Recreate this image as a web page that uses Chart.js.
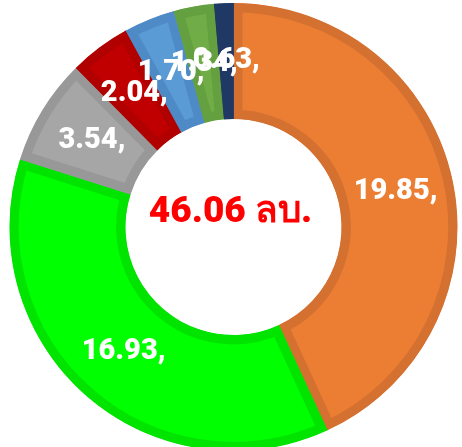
<!DOCTYPE html>
<html>
<head>
<meta charset="utf-8">
<script src="https://cdn.jsdelivr.net/npm/chart.js@4"></script>
<style>
html,body{margin:0;padding:0;background:#fff;overflow:hidden;}
#wrap{width:462px;height:460px;}
</style>
</head>
<body>
<div id="wrap"><canvas id="c" width="462" height="460"></canvas></div>
<script>
const categories = ["A", "B", "C", "D", "E", "F", "G"];
const values = [19.85, 16.93, 3.54, 2.04, 1.70, 1.34, 0.63];
const fillColors = ["#EC7E34", "#00FF00", "#A6A6A6", "#C00000", "#5B9BD5", "#70AD47", "#213A66"];
const edgeColors = ["#D47131", "#00E400", "#989898", "#B00000", "#4E8BC6", "#65A040", "#1F3864"];
const centerText = "46.06 ลบ.";

const labelPlugin = {
  id: 'sliceLabels',
  afterDatasetsDraw(chart) {
    const ctx = chart.ctx;
    const meta = chart.getDatasetMeta(0);
    ctx.save();
    ctx.fillStyle = '#ffffff';
    ctx.font = '900 29px Roboto, "Noto Sans", sans-serif';
    ctx.textAlign = 'center';
    ctx.textBaseline = 'middle';
    meta.data.forEach((arc, i) => {
      const p = arc.tooltipPosition();
      ctx.fillText(values[i].toFixed(2) + ',', p.x, p.y);
    });
    ctx.restore();
  },
  afterDraw(chart) {
    const ctx = chart.ctx;
    const arc = chart.getDatasetMeta(0).data[0];
    ctx.save();
    ctx.fillStyle = '#FF0000';
    ctx.font = '900 37px Roboto, "Noto Sans", sans-serif';
    ctx.textAlign = 'center';
    ctx.textBaseline = 'middle';
    ctx.fillText(centerText, arc.x - 3, arc.y - 14);
    ctx.restore();
  }
};

new Chart(document.getElementById('c'), {
  type: 'doughnut',
  data: {
    labels: categories,
    datasets: [{
      data: values,
      backgroundColor: fillColors,
      borderColor: edgeColors,
      borderWidth: 9,
      hoverBorderWidth: 9,
      borderAlign: 'inner'
    }]
  },
  options: {
    responsive: false,
    animation: false,
    cutout: 108,
    layout: { padding: { left: 9, right: 4, top: 3, bottom: 9 } },
    plugins: { legend: { display: false }, tooltip: { enabled: false } }
  },
  plugins: [labelPlugin]
});
</script>
</body>
</html>
